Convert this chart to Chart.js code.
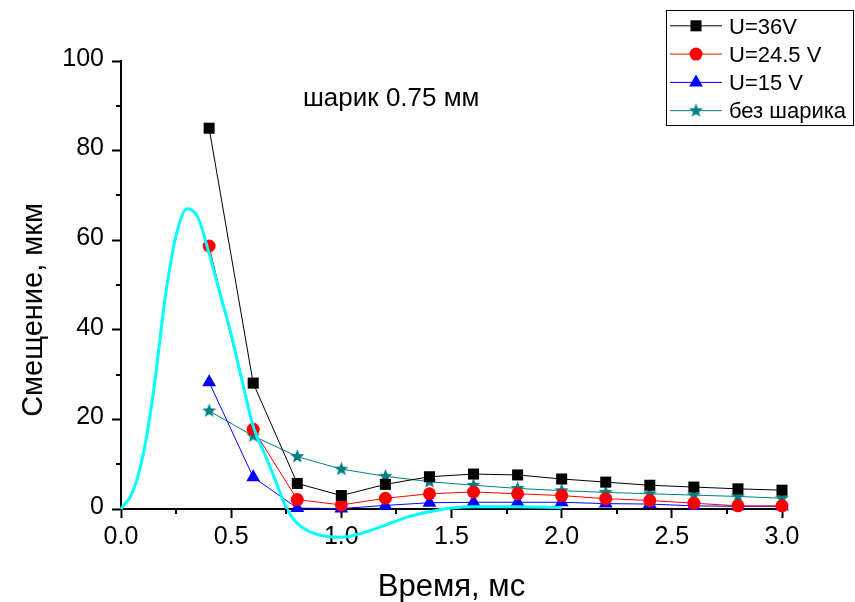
<!DOCTYPE html>
<html>
<head>
<meta charset="utf-8">
<script src="https://cdn.jsdelivr.net/npm/chart.js@4/dist/chart.umd.min.js"></script>
<style>
  html, body { margin: 0; padding: 0; background: #fff; }
  #wrap { width: 855px; height: 602px; }
</style>
</head>
<body>
<div id="wrap"><canvas id="grafico" width="855" height="602"></canvas></div>
<script>
// время, мс
const tempo = [0.4, 0.6, 0.8, 1.0, 1.2, 1.4, 1.6, 1.8, 2.0, 2.2, 2.4, 2.6, 2.8, 3.0];
const u36   = [85.0, 28.1, 5.7, 3.0, 5.5, 7.2, 7.8, 7.6, 6.7, 6.0, 5.3, 4.9, 4.5, 4.2];
const u245  = [58.7, 17.8, 2.1, 0.9, 2.4, 3.4, 3.8, 3.4, 3.0, 2.3, 1.9, 1.3, 0.7, 0.7];
const u15   = [28.3, 7.1, 0.2, 0.1, 0.8, 1.4, 1.5, 1.5, 1.5, 1.2, 1.1, 0.7, 0.6, 0.6];
const semBola = [21.9, 16.3, 11.7, 8.9, 7.3, 6.1, 5.3, 4.6, 4.1, 3.7, 3.4, 3.1, 2.8, 2.4];

// кривая (голубая)
const curvaX = [0, 0.05, 0.1, 0.15, 0.2, 0.25, 0.3, 0.35, 0.4, 0.45, 0.5, 0.55, 0.6, 0.65, 0.7, 0.75, 0.8, 0.9, 1.0, 1.1, 1.2, 1.3, 1.4, 1.5, 1.6, 1.8, 2.0];
const curvaY = [0, 3.5, 12, 27, 47, 61, 67, 65, 57, 48, 39, 28.5, 18.5, 12.5, 6.5, 0.3, -3.2, -5.8, -6.3, -5.3, -3.6, -1.8, -0.6, 0.2, 0.5, 0.5, 0.3];

const yTicksMinor = [10, 30, 50, 70, 90];
const xTicksMinor = [0.25, 0.75, 1.25, 1.75, 2.25, 2.75];

const tituloX = 'Время, мс';
const tituloY = 'Смещение, мкм';
const anotacao = 'шарик 0.75 мм';

const fonte = "'Liberation Sans', Arial, sans-serif";

function pares(xs, ys) {
  return xs.map((x, i) => ({ x: x, y: ys[i] }));
}

function criarEstrela(cor, r) {
  const c = document.createElement('canvas');
  const s = Math.ceil(r * 2 + 2);
  c.width = s; c.height = s;
  const g = c.getContext('2d');
  g.fillStyle = cor;
  g.beginPath();
  for (let i = 0; i < 10; i++) {
    const rr = i % 2 === 0 ? r : r * 0.42;
    const a = -Math.PI / 2 + i * Math.PI / 5;
    const px = s / 2 + rr * Math.cos(a);
    const py = s / 2 + rr * Math.sin(a);
    if (i === 0) g.moveTo(px, py); else g.lineTo(px, py);
  }
  g.closePath();
  g.fill();
  return c;
}

const estrela = criarEstrela('#008080', 7.5);

const series = [
  { label: 'U=36V', data: u36, cor: '#000000', estilo: 'rect', raio: 7.8 },
  { label: 'U=24.5 V', data: u245, cor: '#ff0000', estilo: 'circle', raio: 6.5 },
  { label: 'U=15 V', data: u15, cor: '#0000ff', estilo: 'triangle', raio: 8 },
  { label: 'без шарика', data: semBola, cor: '#008080', estilo: estrela, raio: 7.5 },
];

const datasets = [{
  label: 'curva',
  data: pares(curvaX, curvaY),
  borderColor: '#00ffff',
  borderWidth: 3,
  pointRadius: 0,
  tension: 0.4,
  cubicInterpolationMode: 'monotone',
  clip: false,
  order: 0
}].concat(series.map((s, i) => ({
  label: s.label,
  data: pares(tempo, s.data),
  borderColor: s.cor,
  backgroundColor: s.cor,
  borderWidth: 1,
  pointStyle: s.estilo,
  pointRadius: s.raio,
  pointBorderWidth: 0,
  pointBackgroundColor: s.cor,
  tension: 0,
  clip: false,
  order: i + 1
})));

function desenharMarcador(ctx, s, x, y) {
  ctx.fillStyle = s.cor;
  ctx.beginPath();
  if (s.estilo === 'rect') {
    const h = Math.SQRT1_2 * s.raio;
    ctx.rect(x - h, y - h, 2 * h, 2 * h);
  } else if (s.estilo === 'circle') {
    ctx.arc(x, y, s.raio, 0, Math.PI * 2);
  } else if (s.estilo === 'triangle') {
    for (let k = 0; k < 3; k++) {
      const a = -Math.PI / 2 + k * 2 * Math.PI / 3;
      const px = x + s.raio * Math.cos(a), py = y + s.raio * Math.sin(a);
      if (k === 0) ctx.moveTo(px, py); else ctx.lineTo(px, py);
    }
    ctx.closePath();
  } else {
    ctx.drawImage(s.estilo, x - s.estilo.width / 2, y - s.estilo.height / 2);
    return;
  }
  ctx.fill();
}

const extras = {
  id: 'extras',
  afterDraw(chart) {
    const ctx = chart.ctx;
    const sx = chart.scales.x, sy = chart.scales.y;
    ctx.save();
    // ticks menores
    ctx.strokeStyle = '#000';
    ctx.lineWidth = 2;
    ctx.beginPath();
    yTicksMinor.forEach(v => {
      const py = Math.round(sy.getPixelForValue(v));
      ctx.moveTo(sx.left - 5, py);
      ctx.lineTo(sx.left, py);
    });
    xTicksMinor.forEach(v => {
      const px = Math.round(sx.getPixelForValue(v));
      ctx.moveTo(px, sy.bottom);
      ctx.lineTo(px, sy.bottom + 5);
    });
    ctx.stroke();

    // títulos dos eixos
    ctx.fillStyle = '#000';
    ctx.textBaseline = 'alphabetic';
    ctx.textAlign = 'center';
    ctx.font = '31px ' + fonte;
    ctx.fillText(tituloX, (sx.left + sx.right) / 2, 596);
    ctx.save();
    ctx.translate(42, 310);
    ctx.rotate(-Math.PI / 2);
    ctx.font = '29px ' + fonte;
    ctx.fillText(tituloY, 0, 0);
    ctx.restore();

    // anotação
    ctx.textAlign = 'left';
    ctx.font = '26px ' + fonte;
    ctx.fillText(anotacao, 303, 106);

    // legenda
    ctx.lineWidth = 1;
    ctx.strokeStyle = '#000';
    ctx.strokeRect(666.5, 10.5, 187, 115);
    series.forEach((s, i) => {
      const y = 25.8 + i * 28.3;
      ctx.strokeStyle = s.cor;
      ctx.lineWidth = 1;
      ctx.beginPath();
      ctx.moveTo(670, y);
      ctx.lineTo(722, y);
      ctx.stroke();
      desenharMarcador(ctx, s, 696, y);
      ctx.fillStyle = '#000';
      ctx.font = '22px ' + fonte;
      ctx.textBaseline = 'alphabetic';
      ctx.fillText(s.label, 729, y + 7.7);
    });
    ctx.restore();
  }
};

new Chart(document.getElementById('grafico'), {
  type: 'line',
  data: { datasets: datasets },
  options: {
    responsive: false,
    animation: false,
    layout: { padding: { top: 61, right: 73, left: 0, bottom: 0 } },
    plugins: {
      legend: { display: false },
      tooltip: { enabled: false }
    },
    scales: {
      x: {
        type: 'linear',
        min: 0,
        max: 3,
        afterFit: s => { s.height = 93; },
        border: { display: true, color: '#000', width: 2 },
        grid: { drawOnChartArea: false, drawTicks: true, tickLength: 9, tickColor: '#000', tickWidth: 2 },
        ticks: {
          stepSize: 0.5,
          color: '#000',
          padding: 4,
          maxRotation: 0,
          font: { family: fonte, size: 25 },
          callback: v => Number(v).toFixed(1)
        }
      },
      y: {
        min: 0,
        max: 100,
        afterFit: s => { s.width = 121; },
        border: { display: true, color: '#000', width: 2 },
        grid: { drawOnChartArea: false, drawTicks: true, tickLength: 9, tickColor: '#000', tickWidth: 2 },
        ticks: {
          stepSize: 20,
          color: '#000',
          padding: 8,
          labelOffset: -2,
          font: { family: fonte, size: 25 }
        }
      }
    }
  },
  plugins: [extras]
});
</script>
</body>
</html>
